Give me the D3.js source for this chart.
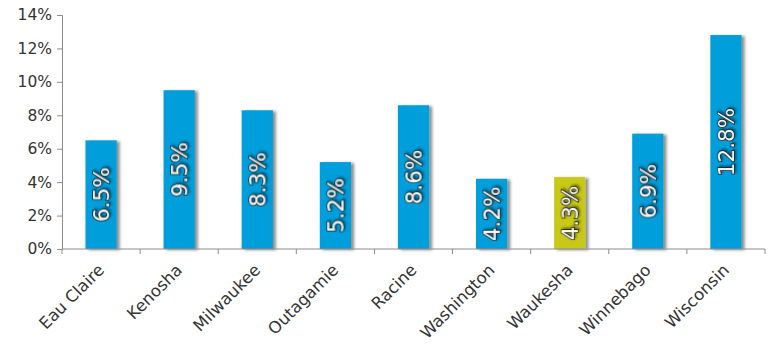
<!DOCTYPE html>
<html><head><meta charset="utf-8">
<script src="https://cdn.jsdelivr.net/npm/d3@7"></script>
<style>body{margin:0;background:#fff}svg{display:block}</style>
</head><body>
<script>
const categories = ["Eau Claire","Kenosha","Milwaukee","Outagamie","Racine","Washington","Waukesha","Winnebago","Wisconsin"];
const values = [6.5, 9.5, 8.3, 5.2, 8.6, 4.2, 4.3, 6.9, 12.8];
const labels = ["6.5%","9.5%","8.3%","5.2%","8.6%","4.2%","4.3%","6.9%","12.8%"];
const highlight = ["Waukesha"];
const yTicks = [0,2,4,6,8,10,12,14];

const W = 768, H = 351;
const m = {left: 62, top: 15, right: 765, bottom: 249};
const font = "'DejaVu Sans',sans-serif";

const svg = d3.select("body").append("svg").attr("width", W).attr("height", H);
const defs = svg.append("defs");
const f = defs.append("filter").attr("id","sh").attr("x","-20%").attr("y","-10%").attr("width","160%").attr("height","120%");
f.append("feDropShadow").attr("dx",3).attr("dy",1).attr("stdDeviation",1.8).attr("flood-color","#000").attr("flood-opacity",0.45);
const f2 = defs.append("filter").attr("id","tsh").attr("x","-20%").attr("y","-20%").attr("width","140%").attr("height","140%");
f2.append("feDropShadow").attr("dx",1.5).attr("dy",1.5).attr("stdDeviation",0.8).attr("flood-color","#000").attr("flood-opacity",0.5);

const x = d3.scaleBand().domain(categories).range([m.left, m.right]).padding(0);
const y = d3.scaleLinear().domain([0,14]).range([m.bottom, m.top]);
const bw = x.bandwidth()*0.4;

// bars
svg.append("g").selectAll("rect").data(categories).join("rect")
  .attr("x", d => x(d) + x.bandwidth()/2 - bw/2)
  .attr("y", (d,i) => y(values[i]))
  .attr("width", bw)
  .attr("height", (d,i) => y(0) - y(values[i]))
  .attr("fill", d => highlight.includes(d) ? "#c8c814" : "#009edb")
  .attr("filter","url(#sh)");

// y axis
const ya = svg.append("g").attr("transform",`translate(${m.left},0)`)
  .call(d3.axisLeft(y).tickValues(yTicks).tickSize(5).tickPadding(5).tickFormat(d => d + "%"));
ya.select(".domain").attr("stroke","#8c8c8c");
ya.selectAll(".tick line").attr("stroke","#8c8c8c");
ya.selectAll("text").attr("font-family",font).attr("font-size",15.5).attr("fill","#333");

// x axis
const xa = svg.append("g").attr("transform",`translate(0,${m.bottom})`);
xa.append("line").attr("x1",m.left).attr("x2",m.right).attr("stroke","#8c8c8c");
xa.selectAll("line.t").data(categories.concat(["_end"])).join("line").attr("class","t")
  .attr("x1",(d,i)=> m.left + i*x.bandwidth()).attr("x2",(d,i)=> m.left + i*x.bandwidth())
  .attr("y1",0).attr("y2",5).attr("stroke","#8c8c8c");
xa.selectAll("text").data(categories).join("text")
  .attr("transform", d => `translate(${x(d)+x.bandwidth()/2},${18}) rotate(-45)`)
  .attr("text-anchor","end").attr("dy","0.35em")
  .attr("font-family",font).attr("font-size",16.5).attr("fill","#333")
  .text(d => d);

// value labels
svg.append("g").selectAll("text").data(categories).join("text")
  .attr("transform", (d,i) => `translate(${x(d)+x.bandwidth()/2},${(y(values[i])+y(0))/2}) rotate(-90)`)
  .attr("text-anchor","middle").attr("dy","0.36em")
  .attr("font-family",font).attr("font-size",21.5)
  .attr("fill","#f8f8f8").attr("stroke","#1a1a1a").attr("stroke-width",1.6)
  .attr("paint-order","stroke")
  .attr("filter","url(#tsh)")
  .text((d,i) => labels[i]);
</script>
</body></html>
